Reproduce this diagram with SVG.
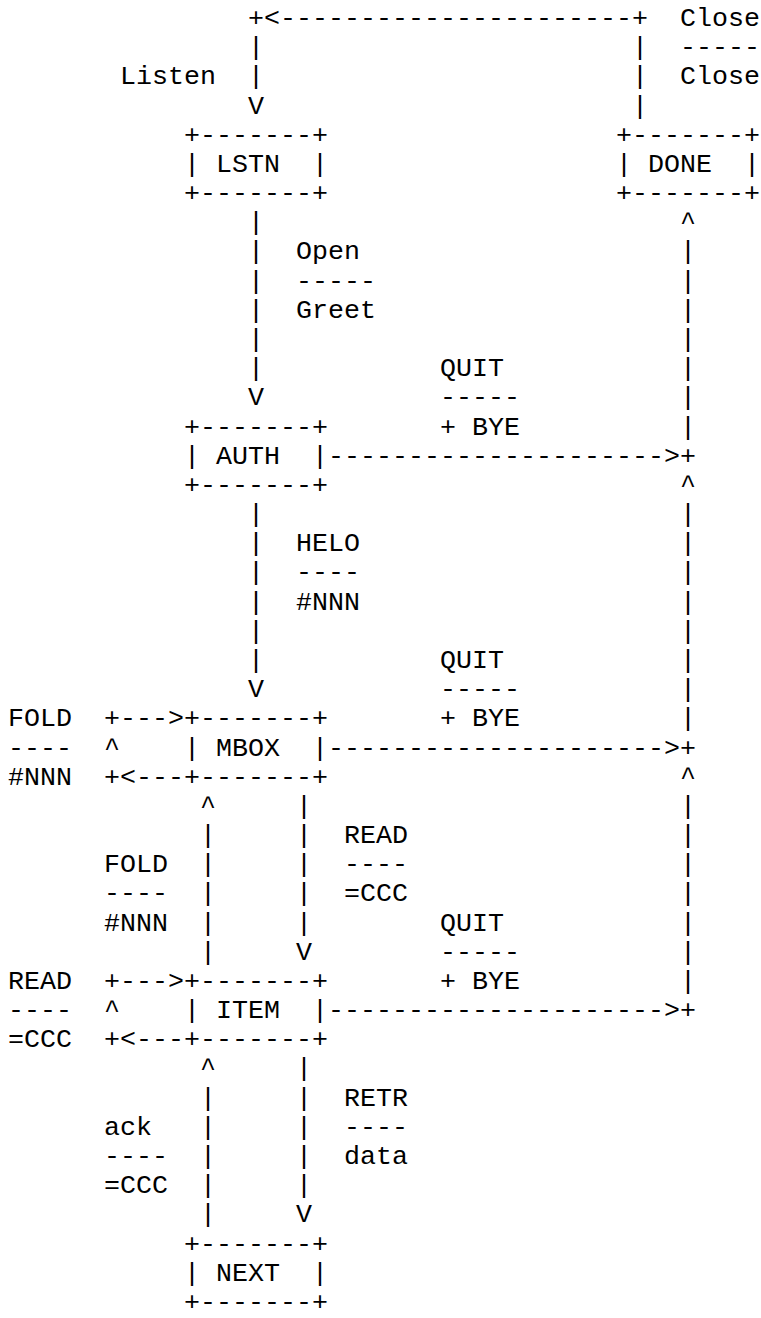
<svg xmlns="http://www.w3.org/2000/svg" width="761" height="1318" viewBox="0 0 761 1318" xml:space="preserve">
<style>
text { font-family: "Liberation Mono", "Courier New", monospace; font-size: 26.66px; fill: #000; white-space: pre; }
</style>
<rect x="0" y="0" width="761" height="1318" fill="#fff"/>
<g id="connectors">
<text x="248" y="26">+&lt;----------------------+</text>
<text><tspan x="248" y="55.18">|</tspan><tspan x="248" y="84.36">|</tspan><tspan x="248" y="113.54">V</tspan></text>
<text><tspan x="632" y="55.18">|</tspan><tspan x="632" y="84.36">|</tspan><tspan x="632" y="113.54">|</tspan></text>
<text><tspan x="248" y="230.26">|</tspan><tspan x="248" y="259.44">|</tspan><tspan x="248" y="288.62">|</tspan><tspan x="248" y="317.8">|</tspan><tspan x="248" y="346.98">|</tspan><tspan x="248" y="376.16">|</tspan><tspan x="248" y="405.34">V</tspan></text>
<text><tspan x="248" y="522.06">|</tspan><tspan x="248" y="551.24">|</tspan><tspan x="248" y="580.42">|</tspan><tspan x="248" y="609.6">|</tspan><tspan x="248" y="638.78">|</tspan><tspan x="248" y="667.96">|</tspan><tspan x="248" y="697.14">V</tspan></text>
<text><tspan x="680" y="230.26">^</tspan><tspan x="680" y="259.44">|</tspan><tspan x="680" y="288.62">|</tspan><tspan x="680" y="317.8">|</tspan><tspan x="680" y="346.98">|</tspan><tspan x="680" y="376.16">|</tspan><tspan x="680" y="405.34">|</tspan><tspan x="680" y="434.52">|</tspan></text>
<text><tspan x="680" y="492.88">^</tspan><tspan x="680" y="522.06">|</tspan><tspan x="680" y="551.24">|</tspan><tspan x="680" y="580.42">|</tspan><tspan x="680" y="609.6">|</tspan><tspan x="680" y="638.78">|</tspan><tspan x="680" y="667.96">|</tspan><tspan x="680" y="697.14">|</tspan><tspan x="680" y="726.32">|</tspan></text>
<text><tspan x="680" y="784.68">^</tspan><tspan x="680" y="813.86">|</tspan><tspan x="680" y="843.04">|</tspan><tspan x="680" y="872.22">|</tspan><tspan x="680" y="901.4">|</tspan><tspan x="680" y="930.58">|</tspan><tspan x="680" y="959.76">|</tspan><tspan x="680" y="988.94">|</tspan></text>
<text x="328" y="463.7">---------------------&gt;+</text>
<text x="328" y="755.5">---------------------&gt;+</text>
<text x="328" y="1018.12">---------------------&gt;+</text>
<text x="104" y="726.32">+---&gt;</text>
<text x="104" y="755.5">^</text>
<text x="104" y="784.68">+&lt;---</text>
<text x="104" y="988.94">+---&gt;</text>
<text x="104" y="1018.12">^</text>
<text x="104" y="1047.3">+&lt;---</text>
<text><tspan x="200" y="813.86">^</tspan><tspan x="200" y="843.04">|</tspan><tspan x="200" y="872.22">|</tspan><tspan x="200" y="901.4">|</tspan><tspan x="200" y="930.58">|</tspan><tspan x="200" y="959.76">|</tspan></text>
<text><tspan x="296" y="813.86">|</tspan><tspan x="296" y="843.04">|</tspan><tspan x="296" y="872.22">|</tspan><tspan x="296" y="901.4">|</tspan><tspan x="296" y="930.58">|</tspan><tspan x="296" y="959.76">V</tspan></text>
<text><tspan x="200" y="1076.48">^</tspan><tspan x="200" y="1105.66">|</tspan><tspan x="200" y="1134.84">|</tspan><tspan x="200" y="1164.02">|</tspan><tspan x="200" y="1193.2">|</tspan><tspan x="200" y="1222.38">|</tspan></text>
<text><tspan x="296" y="1076.48">|</tspan><tspan x="296" y="1105.66">|</tspan><tspan x="296" y="1134.84">|</tspan><tspan x="296" y="1164.02">|</tspan><tspan x="296" y="1193.2">|</tspan><tspan x="296" y="1222.38">V</tspan></text>
</g>
<g id="LSTN">
<text x="184" y="142.72">+-------+</text>
<text x="184" y="171.9">| LSTN  |</text>
<text x="184" y="201.08">+-------+</text>
</g>
<g id="DONE">
<text x="616" y="142.72">+-------+</text>
<text x="616" y="171.9">| DONE  |</text>
<text x="616" y="201.08">+-------+</text>
</g>
<g id="AUTH">
<text x="184" y="434.52">+-------+</text>
<text x="184" y="463.7">| AUTH  |</text>
<text x="184" y="492.88">+-------+</text>
</g>
<g id="MBOX">
<text x="184" y="726.32">+-------+</text>
<text x="184" y="755.5">| MBOX  |</text>
<text x="184" y="784.68">+-------+</text>
</g>
<g id="ITEM">
<text x="184" y="988.94">+-------+</text>
<text x="184" y="1018.12">| ITEM  |</text>
<text x="184" y="1047.3">+-------+</text>
</g>
<g id="NEXT">
<text x="184" y="1251.56">+-------+</text>
<text x="184" y="1280.74">| NEXT  |</text>
<text x="184" y="1309.92">+-------+</text>
</g>
<g id="labels">
<text x="680" y="26">Close</text>
<text x="680" y="55.18">-----</text>
<text x="680" y="84.36">Close</text>
<text x="120" y="84.36">Listen</text>
<text x="296" y="259.44">Open</text>
<text x="296" y="288.62">-----</text>
<text x="296" y="317.8">Greet</text>
<text x="440" y="376.16">QUIT</text>
<text x="440" y="405.34">-----</text>
<text x="440" y="434.52">+ BYE</text>
<text x="296" y="551.24">HELO</text>
<text x="296" y="580.42">----</text>
<text x="296" y="609.6">#NNN</text>
<text x="440" y="667.96">QUIT</text>
<text x="440" y="697.14">-----</text>
<text x="440" y="726.32">+ BYE</text>
<text x="8" y="726.32">FOLD</text>
<text x="8" y="755.5">----</text>
<text x="8" y="784.68">#NNN</text>
<text x="344" y="843.04">READ</text>
<text x="344" y="872.22">----</text>
<text x="344" y="901.4">=CCC</text>
<text x="104" y="872.22">FOLD</text>
<text x="104" y="901.4">----</text>
<text x="104" y="930.58">#NNN</text>
<text x="440" y="930.58">QUIT</text>
<text x="440" y="959.76">-----</text>
<text x="440" y="988.94">+ BYE</text>
<text x="8" y="988.94">READ</text>
<text x="8" y="1018.12">----</text>
<text x="8" y="1047.3">=CCC</text>
<text x="344" y="1105.66">RETR</text>
<text x="344" y="1134.84">----</text>
<text x="344" y="1164.02">data</text>
<text x="104" y="1134.84">ack</text>
<text x="104" y="1164.02">----</text>
<text x="104" y="1193.2">=CCC</text>
</g>
</svg>
